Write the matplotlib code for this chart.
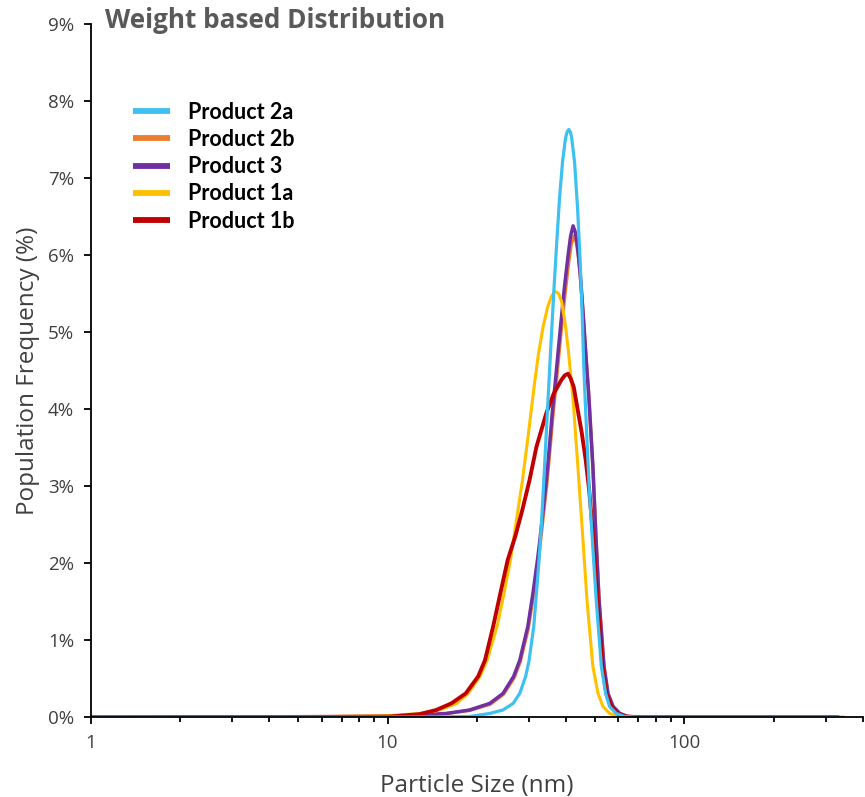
import matplotlib
matplotlib.use("Agg")
import matplotlib.pyplot as plt
from matplotlib.ticker import FuncFormatter, LogLocator, FixedLocator

# ---- data (particle size in nm, population frequency in %) ----
size_2a = [1, 10, 15, 18.9, 22.1, 24.5, 26.5, 27.9, 29.2, 30.0, 31.1, 31.75, 32.4, 33.0, 33.7,
           34.5, 35.4, 36.3, 37.15, 38.0, 38.9, 39.8, 40.3, 40.8, 41.3, 41.75, 42.7, 43.7, 44.6,
           45.3, 45.9, 46.5, 47.25, 48.0, 49.0, 50.5, 52.55, 54.3, 56.0, 59.0, 63.0, 70.7, 100, 330]
freq_2a = [0, 0.003, 0.005, 0.01, 0.05, 0.095, 0.18, 0.31, 0.53, 0.74, 1.18, 1.61, 2.04, 2.5, 3.15,
           3.9, 4.72, 5.5, 6.15, 6.75, 7.22, 7.52, 7.60, 7.63, 7.60, 7.52, 7.2, 6.6, 5.9,
           5.2, 4.5, 4.0, 3.4, 2.85, 2.3, 1.52, 0.66, 0.31, 0.14, 0.05, 0.01, 0.0, 0.0, 0.0]

size_2b = [1, 10, 15.9, 19.0, 22.2, 24.6, 26.7, 28.0, 29.8, 31.0, 32.1, 32.6, 34.4, 35.1, 36.0,
           37.0, 37.7, 38.4, 39.6, 40.7, 41.6, 42.5, 43.2, 44.0, 44.8, 45.7, 46.7, 47.8, 49.3,
           50.4, 51.7, 53.7, 55.4, 57.6, 60.7, 64.5, 73, 100, 345]
freq_2b = [0, 0.005, 0.05, 0.09, 0.17, 0.30, 0.51, 0.72, 1.15, 1.58, 2.0, 2.2, 3.02, 3.38, 3.87,
           4.33, 4.66, 4.98, 5.48, 5.88, 6.14, 6.25, 6.18, 5.98, 5.65, 5.2, 4.66, 4.12, 3.2,
           2.35, 1.50, 0.65, 0.30, 0.14, 0.05, 0.01, 0.0, 0.0, 0.0]

size_3 = [1, 10, 15.8, 18.9, 22.1, 24.5, 26.6, 27.9, 29.7, 30.9, 32.0, 32.5, 34.3, 35.0, 35.9,
          36.9, 37.6, 38.3, 39.5, 40.6, 41.4, 42.2, 42.9, 43.7, 44.6, 45.5, 46.5, 47.6, 49.2,
          50.3, 51.6, 53.6, 55.3, 57.5, 60.6, 64.4, 72, 100, 330]
freq_3 = [0, 0.005, 0.05, 0.095, 0.18, 0.31, 0.53, 0.74, 1.18, 1.61, 2.04, 2.25, 3.08, 3.45, 3.95,
          4.42, 4.76, 5.08, 5.6, 6.0, 6.25, 6.38, 6.3, 6.1, 5.75, 5.3, 4.75, 4.2, 3.25,
          2.39, 1.52, 0.66, 0.31, 0.14, 0.05, 0.01, 0.0, 0.0, 0.0]

size_1a = [1, 5, 10.0, 12.85, 15.0, 17.1, 18.7, 20.5, 21.65, 23.4, 24.7, 25.95, 28.5, 29.7, 31.3,
           32.2, 33.4, 34.65, 35.7, 36.7, 37.7, 38.6, 39.8, 40.7, 42.2, 43.8, 45.4, 47.0, 49.2,
           51.2, 53.2, 56.0, 60.6, 68, 100, 330]
freq_1a = [0, 0.005, 0.02, 0.05, 0.095, 0.18, 0.31, 0.53, 0.74, 1.18, 1.61, 2.04, 3.08, 3.62, 4.34,
           4.70, 5.06, 5.33, 5.47, 5.53, 5.50, 5.40, 5.08, 4.75, 4.12, 3.25, 2.39, 1.52, 0.66,
           0.31, 0.14, 0.05, 0.01, 0.0, 0.0, 0.0]

size_1b = [1, 5, 10.2, 12.8, 14.6, 16.4, 18.35, 20.2, 21.3, 22.7, 24.0, 25.4, 26.95, 28.5, 30.1,
           31.75, 34.3, 36.3, 38.55, 39.6, 40.6, 41.4, 42.4, 43.7, 45.1, 46.5, 47.8, 49.2, 50.95,
           53.0, 54.6, 56.8, 59.6, 63.5, 72, 100, 330]
freq_1b = [0, 0.005, 0.01, 0.04, 0.095, 0.18, 0.31, 0.53, 0.74, 1.18, 1.61, 2.04, 2.35, 2.70, 3.08,
           3.51, 3.95, 4.20, 4.38, 4.44, 4.46, 4.40, 4.29, 4.0, 3.7, 3.35, 2.95, 2.39, 1.52,
           0.66, 0.31, 0.14, 0.05, 0.01, 0.0, 0.0, 0.0]

labels = ["Product 2a", "Product 2b", "Product 3", "Product 1a", "Product 1b"]
colors = ["#3EC0F0", "#ED7D31", "#7030A0", "#FFC000", "#C00000"]

y_ticks = [0, 1, 2, 3, 4, 5, 6, 7, 8, 9]
x_major = [1, 10, 100]

plt.rcParams['font.family'] = ['Open Sans', 'DejaVu Sans']

fig = plt.figure(figsize=(8.65, 7.97), dpi=100)
ax = fig.add_axes([90.7 / 865, 1 - 717.3 / 797, (863 - 90.7) / 865, (717.3 - 24) / 797])

series = {
    "Product 2a": (size_2a, freq_2a),
    "Product 2b": (size_2b, freq_2b),
    "Product 3": (size_3, freq_3),
    "Product 1a": (size_1a, freq_1a),
    "Product 1b": (size_1b, freq_1b),
}
widths = {"Product 2a": 2.3, "Product 2b": 2.4, "Product 3": 2.5,
          "Product 1a": 2.2, "Product 1b": 2.8}
draw_order = ["Product 2b", "Product 3", "Product 1a", "Product 1b", "Product 2a"]
handles = {}
for name in draw_order:
    xs, ys = series[name]
    c = colors[labels.index(name)]
    ln, = ax.plot(xs, ys, color=c, lw=widths[name], solid_joinstyle='round',
                  solid_capstyle='round', label=name)
    handles[name] = ln

ax.set_xscale('log')
ax.set_xlim(1, 400)
ax.set_ylim(0, 9)

ax.xaxis.set_major_locator(FixedLocator(x_major))
ax.xaxis.set_major_formatter(FuncFormatter(lambda v, p: f"{v:g}"))
ax.xaxis.set_minor_locator(LogLocator(base=10, subs=range(2, 10)))
ax.xaxis.set_minor_formatter(FuncFormatter(lambda v, p: ""))
ax.set_yticks(y_ticks)
ax.yaxis.set_major_formatter(FuncFormatter(lambda v, p: f"{v:.0f}%"))

for s in ['top', 'right']:
    ax.spines[s].set_visible(False)
for s in ['left', 'bottom']:
    ax.spines[s].set_linewidth(1.3)
    ax.spines[s].set_color('#000000')

ax.tick_params(axis='both', which='major', direction='out', length=5, width=1.3,
               labelsize=13.5, labelcolor='#404040', color='black')
ax.tick_params(axis='x', which='minor', direction='out', length=3.5, width=1.3, color='black')
ax.tick_params(axis='x', which='major', pad=7)
ax.tick_params(axis='y', which='major', pad=7)

ax.set_xlabel("Particle Size (nm)", fontsize=17.5, color='#404040', labelpad=16)
ax.set_ylabel("Population Frequency (%)", fontsize=17.5, color='#404040', labelpad=6)

fig.text(105 / 865, 1 - 20 / 797, "Weight based Distribution", fontsize=18.8,
         fontweight='bold', color='#595959', ha='left', va='center')

leg_handles = [handles[n] for n in labels]
leg = ax.legend(leg_handles, labels, loc='upper left', bbox_to_anchor=(0.0548, 0.888),
                frameon=False, borderaxespad=0, borderpad=0,
                handlelength=1.72, handletextpad=0.84, labelspacing=0.29,
                prop={'family': ['Lato', 'DejaVu Sans'], 'weight': 'bold', 'size': 15.5})
for lh in leg.get_lines():
    lh.set_linewidth(4.2)
    lh.set_solid_capstyle('butt')
for t in leg.get_texts():
    t.set_color('black')

fig.savefig("out.png", dpi=100)
